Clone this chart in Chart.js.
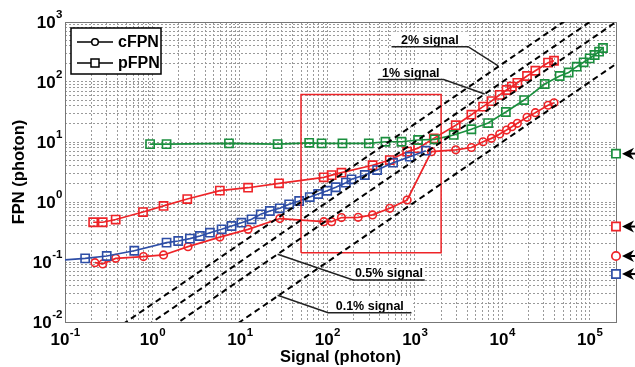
<!DOCTYPE html>
<html>
<head>
<meta charset="utf-8">
<script src="https://cdn.jsdelivr.net/npm/chart.js@4.4.1/dist/chart.umd.min.js"></script>
<style>
  html, body { margin: 0; padding: 0; background: #fff; }
</style>
</head>
<body>
<canvas id="myChart" width="635" height="367"></canvas>
<script>
// ---- data (signal in photons, FPN in photons) ----
const bluePSig = [0.06, 0.17, 0.30, 0.62, 1.45, 1.97, 2.68, 3.49, 4.54, 6.18, 8.03, 10.4, 13.6, 17.3, 22.0, 28.6, 36.6, 47.6, 63, 78.5, 99.6, 125, 163, 189, 268, 371, 565, 877, 1337];
const bluePFpn = [0.102, 0.115, 0.126, 0.154, 0.21, 0.224, 0.245, 0.271, 0.308, 0.351, 0.398, 0.452, 0.515, 0.624, 0.708, 0.785, 0.916, 1.04, 1.21, 1.36, 1.54, 1.76, 2.10, 2.39, 2.82, 3.41, 4.52, 5.69, 7.16];

const redPSig = [0.21, 0.27, 0.38, 0.78, 1.34, 2.5, 5.9, 12.4, 28, 91, 112, 145, 329, 518, 817, 1090, 1650, 2940, 4440, 6040, 7530, 9360, 11200, 12900, 14900, 19200, 23900, 33400, 39100];
const redPFpn = [0.46, 0.46, 0.51, 0.68, 0.86, 1.12, 1.55, 1.73, 2.05, 2.58, 2.8, 3.08, 4.1, 5.0, 6.9, 7.9, 11.5, 19, 28.5, 38.8, 48, 61, 73.6, 83.6, 97, 126, 154, 210, 226];

const redCSig = [0.22, 0.27, 0.38, 0.79, 1.34, 2.55, 5.9, 12.4, 28.6, 91, 112, 145, 225, 329, 518, 817, 1550, 2940, 4440, 6040, 7530, 9360, 11200, 12900, 14900, 19200, 23900, 33400, 39100];
const redCFpn = [0.0975, 0.093, 0.115, 0.123, 0.131, 0.18, 0.26, 0.35, 0.53, 0.47, 0.47, 0.55, 0.556, 0.61, 0.785, 1.08, 6.9, 7.4, 8.1, 10.1, 11.5, 13.6, 15.8, 18, 20.5, 25.8, 30.8, 41, 45];

const greenPSig = [0.94, 1.45, 7.5, 27, 62, 86, 149, 298, 462, 704, 1090, 1690, 2790, 4440, 6890, 11000, 17800, 30600, 45400, 57500, 71000, 85300, 100000, 114000, 128000, 142000];
const greenPFpn = [9.2, 9.2, 9.5, 9.2, 9.7, 9.5, 9.5, 9.5, 10.1, 10.1, 10.8, 11.1, 13.1, 16.3, 20.7, 31.6, 50, 92.6, 126, 144, 180, 213, 248, 282, 320, 369];

// reference lines: FPN = pct% of signal
const signalPct = [2, 1, 0.5, 0.1];
const sigRange = [0.1, 2e5];
const fpnRange = [0.01, 1000];

// red zoom box corners
const boxSig = [50, 2000, 2000, 50, 50];
const boxFpn = [0.143, 0.143, 62, 62, 0.143];

// values marked with arrows on the right axis
const sideFpn = [6.4, 0.39, 0.126, 0.063];
const sideColor = ['#1b8f3e', '#ee2428', '#ee2428', '#2e4ea6'];
const sideStyle = ['rect', 'rect', 'circle', 'rect'];

const legendNames = ['cFPN', 'pFPN'];
const decadesX = [-1, 0, 1, 2, 3, 4, 5];
const decadesY = [-2, -1, 0, 1, 2, 3];

const RED = '#ee2428', GREEN = '#1b8f3e', BLUE = '#2e4ea6';
const FONT = '"Liberation Sans", Arial, sans-serif';

const pts = (xs, ys) => xs.map((x, i) => ({x: x, y: ys[i]}));

function series(xs, ys, color, style) {
  return {
    type: 'line', data: pts(xs, ys),
    borderColor: color, borderWidth: 1.7,
    pointStyle: style, pointRadius: style === 'rect' ? 5.8 : 3.8,
    pointBorderColor: color, pointBorderWidth: 1.6,
    pointBackgroundColor: 'rgba(0,0,0,0)',
    tension: 0
  };
}

const refSets = signalPct.map(p => ({
  type: 'line',
  data: sigRange.map(s => ({x: s, y: s * p / 100})),
  borderColor: '#000', borderWidth: 2, borderDash: [6, 4],
  pointRadius: 0
}));

// 1..9 x 10^k ticks so the log grid looks like matlab's
function gridTicks(lo, hi) {
  const out = [];
  for (let e = Math.floor(Math.log10(lo)); e <= Math.ceil(Math.log10(hi)); e++) {
    for (let m = 1; m <= 9; m++) {
      const v = parseFloat((m * Math.pow(10, e)).toPrecision(3));
      if (v >= lo * 0.999 && v <= hi * 1.001) out.push({value: v, major: m === 1});
    }
  }
  return out;
}

// callouts, in data units: polyline, text sits on the flat part
const callouts = [
  {text: '2% signal', path: [[542, 387], [4070, 387], [9000, 185]]},
  {text: '1% signal', path: [[378, 110], [2140, 110], [6300, 63]]},
  {text: '0.5% signal', path: [[27, 0.135], [197, 0.0501], [1300, 0.0501]]},
  {text: '0.1% signal', path: [[27, 0.028], [102, 0.0143], [916, 0.0143]]}
];

const decor = {
  id: 'decor',
  beforeDatasetsDraw(chart) {
    const {ctx, chartArea: a, scales: {x, y}} = chart;
    ctx.save();
    // callouts
    ctx.font = 'bold 12.5px ' + FONT;
    ctx.textAlign = 'center';
    ctx.textBaseline = 'alphabetic';
    callouts.forEach(c => {
      const p = c.path.map(q => [x.getPixelForValue(q[0]), y.getPixelForValue(q[1])]);
      let flat = 0;
      for (let i = 0; i < p.length - 1; i++) if (Math.abs(p[i][1] - p[i + 1][1]) < 0.5) flat = i;
      const x0 = p[flat][0], x1 = p[flat + 1][0], yy = p[flat][1];
      ctx.fillStyle = '#fff';
      ctx.fillRect(x0, yy - 15, x1 - x0, 14);
      ctx.fillStyle = '#000';
      ctx.fillText(c.text, (x0 + x1) / 2, yy - 3);
      ctx.strokeStyle = '#222';
      ctx.lineWidth = 1.5;
      ctx.beginPath();
      p.forEach((q, i) => i ? ctx.lineTo(q[0], q[1]) : ctx.moveTo(q[0], q[1]));
      ctx.stroke();
    });
    // frame
    ctx.strokeStyle = '#777';
    ctx.lineWidth = 1;
    ctx.strokeRect(Math.round(a.left) + 0.5, Math.round(a.top) + 0.5, Math.round(a.right - a.left), Math.round(a.bottom - a.top));
    ctx.restore();
  },
  afterDraw(chart) {
    const {ctx, chartArea: a, scales: {x, y}} = chart;
    ctx.save();
    ctx.fillStyle = '#000';
    // tick labels 10^k
    const big = 'bold 17px ' + FONT, sup = 'bold 11.5px ' + FONT;
    function pow10(k, px, py, align, raise) {
      ctx.font = big;
      const w1 = ctx.measureText('10').width;
      ctx.font = sup;
      const w2 = ctx.measureText(String(k)).width;
      const left = align === 'center' ? px - (w1 + w2) / 2 : px - (w1 + w2);
      ctx.textAlign = 'left';
      ctx.textBaseline = 'alphabetic';
      ctx.font = big;
      ctx.fillText('10', left, py);
      ctx.font = sup;
      ctx.fillText(String(k), left + w1 + 0.5, py - raise);
    }
    decadesX.forEach(k => pow10(k, x.getPixelForValue(Math.pow(10, k)), a.bottom + 23, 'center', 9));
    decadesY.forEach(k => pow10(k, a.left - 3, y.getPixelForValue(Math.pow(10, k)) + 6, 'right', 10.5));
    // axis titles
    ctx.font = 'bold 16.5px ' + FONT;
    ctx.textAlign = 'center';
    ctx.fillText('Signal (photon)', (a.left + a.right) / 2, a.bottom + 40);
    ctx.save();
    ctx.translate(24, (a.top + a.bottom) / 2);
    ctx.rotate(-Math.PI / 2);
    ctx.fillText('FPN (photon)', 0, 0);
    ctx.restore();
    // legend box
    const lx = a.left + 6, ly = a.top + 6, lw = 90, lh = 46;
    ctx.fillStyle = '#fff';
    ctx.fillRect(lx, ly, lw, lh);
    ctx.strokeStyle = '#000';
    ctx.lineWidth = 1.5;
    ctx.strokeRect(lx, ly, lw, lh);
    legendNames.forEach((name, i) => {
      const yy = ly + 14 + i * 21;
      ctx.beginPath();
      ctx.moveTo(lx + 6, yy);
      ctx.lineTo(lx + 42, yy);
      ctx.stroke();
      ctx.fillStyle = '#fff';
      ctx.beginPath();
      if (i === 0) ctx.arc(lx + 24, yy, 3.3, 0, Math.PI * 2);
      else ctx.rect(lx + 20, yy - 4, 8, 8);
      ctx.fill();
      ctx.stroke();
      ctx.fillStyle = '#000';
      ctx.font = 'bold 16px ' + FONT;
      ctx.textAlign = 'left';
      ctx.textBaseline = 'middle';
      ctx.fillText(name, lx + 47, yy + 1);
    });
    // arrows pointing at the right-axis markers
    const meta = chart.getDatasetMeta(chart.data.datasets.length - 1);
    ctx.fillStyle = '#000';
    ctx.strokeStyle = '#000';
    ctx.lineWidth = 2;
    meta.data.forEach(el => {
      const tx = el.x + 6, ty = el.y;
      ctx.beginPath();
      ctx.moveTo(tx, ty);
      ctx.lineTo(tx + 12, ty - 6);
      ctx.lineTo(tx + 8.5, ty);
      ctx.lineTo(tx + 12, ty + 6);
      ctx.closePath();
      ctx.fill();
      ctx.beginPath();
      ctx.moveTo(tx + 8, ty);
      ctx.lineTo(tx + 19, ty);
      ctx.stroke();
    });
    ctx.restore();
  }
};

const datasets = [
  ...refSets,
  {type: 'line', data: pts(boxSig, boxFpn), borderColor: RED, borderWidth: 1.5, pointRadius: 0},
  series(bluePSig, bluePFpn, BLUE, 'rect'),
  series(greenPSig, greenPFpn, GREEN, 'rect'),
  series(redCSig, redCFpn, RED, 'circle'),
  series(redPSig, redPFpn, RED, 'rect'),
  {
    type: 'scatter', clip: false,
    data: sideFpn.map(v => ({x: sigRange[1], y: v})),
    pointStyle: sideStyle, pointRadius: sideStyle.map(s => s === 'rect' ? 5.8 : 4.2),
    pointBorderColor: sideColor, pointBorderWidth: 1.7,
    pointBackgroundColor: '#fff'
  }
];

const gridOpts = {color: '#9a9a9a', lineWidth: 1, drawTicks: false};

new Chart(document.getElementById('myChart'), {
  type: 'line',
  data: {datasets},
  options: {
    responsive: false,
    animation: false,
    events: [],
    layout: {padding: {left: 65, right: 19, top: 22, bottom: 45}},
    plugins: {legend: {display: false}, tooltip: {enabled: false}},
    scales: {
      x: {
        type: 'logarithmic', min: sigRange[0], max: sigRange[1],
        afterBuildTicks: s => { s.ticks = gridTicks(sigRange[0], sigRange[1]); },
        ticks: {display: false},
        grid: gridOpts,
        border: {display: false, dash: [2, 2]}
      },
      y: {
        type: 'logarithmic', min: fpnRange[0], max: fpnRange[1],
        afterBuildTicks: s => { s.ticks = gridTicks(fpnRange[0], fpnRange[1]); },
        ticks: {display: false},
        grid: gridOpts,
        border: {display: false, dash: [2, 2]}
      }
    }
  },
  plugins: [decor]
});
</script>
</body>
</html>
